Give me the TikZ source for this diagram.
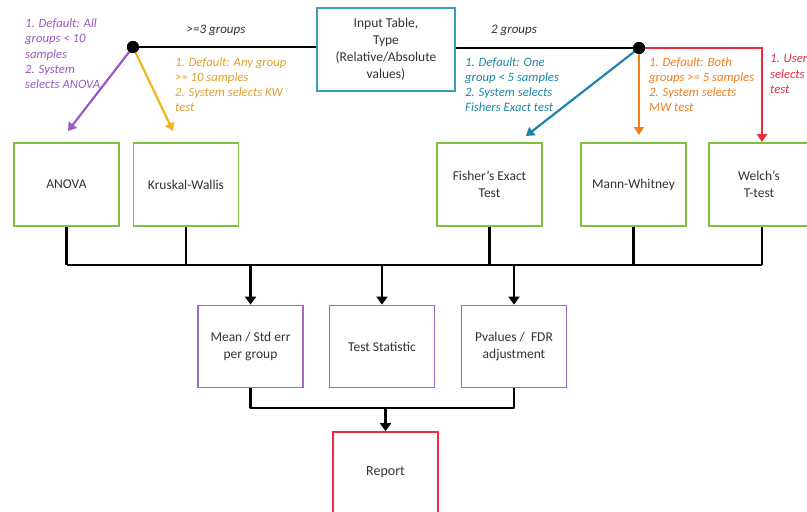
\documentclass[tikz,border=0pt]{standalone}
\usepackage{fontspec}
\setmainfont{Carlito}
\usetikzlibrary{arrows.meta}
\definecolor{cpurple}{HTML}{9B59C4}
\definecolor{cyellow}{HTML}{F2B41C}
\definecolor{cyellowt}{HTML}{E0A030}
\definecolor{cblue}{HTML}{1F86AA}
\definecolor{cinput}{HTML}{3C9CC0}
\definecolor{cgreen}{HTML}{7CC142}
\definecolor{corange}{HTML}{F07F1C}
\definecolor{cred}{HTML}{EC2A40}
\definecolor{cbox}{HTML}{A465C4}
\definecolor{ctext}{HTML}{333333}
\begin{document}
\begin{tikzpicture}[x=1pt,y=-1pt,
  box/.style={draw, line width=1.8pt, fill=white, text=ctext, align=center,
    font=\fontsize{13.5}{17}\selectfont, inner sep=2pt},
  greenbox/.style={box, draw=cgreen, minimum width=105pt, minimum height=83pt},
  purplebox/.style={box, draw=cbox, minimum width=105pt, minimum height=82pt},
  wire/.style={line width=2.5pt, black, line join=round},
  warrow/.style={wire, -{Triangle[width=11pt,length=8pt]}},
  carrow/.style={line width=2.2pt, -{Triangle[width=10pt,length=8pt]}},
  note/.style={anchor=north west, inner sep=0pt, align=left,
    font=\fontsize{12.7}{15.3}\selectfont\itshape},
  dot/.style={circle, fill=black, inner sep=0pt, minimum size=12pt}
]
\useasboundingbox (0,0) rectangle (807,512);
\fill[white] (0,0) rectangle (807,512);

% nodes
\node[box, draw=cinput, minimum width=138pt, minimum height=83pt] (input) at (386,49.5)
  {Input Table,\\Type\\(Relative/Absolute\\values)};
\node[dot] (ldot) at (133,47) {};
\node[dot] (rdot) at (639,48) {};

\node[greenbox] (anova) at (66.5,184.5) {ANOVA};
\node[greenbox] (kw) at (186,184.5) {Kruskal-Wallis};
\node[greenbox] (fisher) at (489.5,184.5) {Fisher’s Exact\\Test};
\node[greenbox] (mw) at (633.5,184.5) {Mann-Whitney};
\node[greenbox, minimum width=100pt] (welch) at (759,184.5) {Welch’s\\T-test};

\node[purplebox] (mean) at (250.5,346.5) {Mean / Std err\\per group};
\node[purplebox] (tstat) at (382,346.5) {Test Statistic};
\node[purplebox] (pv) at (514,346.5) {Pvalues /\ \ FDR\\adjustment};

\node[box, draw=cred, minimum width=105pt, minimum height=86pt] (rep) at (385.5,475) {};
\node[text=ctext, font=\fontsize{14}{17}\selectfont] (reptext) at (385.5,472) {Report};

% labels
\node[font=\fontsize{13}{15}\selectfont\itshape, text=ctext] (l3) at (216,30) {>=3 groups};
\node[font=\fontsize{13}{15}\selectfont\itshape, text=ctext] (l2) at (514,30) {2 groups};

\node[note, text=cpurple] (npurple) at (25,18.5)
  {1. Default: All\\groups < 10\\samples\\2. System\\selects ANOVA};
\node[note, text=cyellowt] (nyellow) at (175,57)
  {1. Default: Any group\\>= 10 samples\\2. System selects KW\\test};
\node[note, text=cblue] (nblue) at (465,57)
  {1. Default: One\\group < 5 samples\\2. System selects\\Fishers Exact test};
\node[note, text=corange] (norange) at (649,57)
  {1. Default: Both\\groups >= 5 samples\\2. System selects\\MW test};
\node[note, text=cred] (nred) at (770,54.5)
  {1. User\\selects\\test};

% top connectors
\draw[wire] (ldot.center) -- (input.west |- ldot.center);
\draw[wire] (input.east |- rdot.center) -- (rdot.center);
\coordinate (ptip) at (68,131);
\coordinate (ytip) at (173,131);
\coordinate (btip) at (526,136);
\draw[carrow, cpurple] (ldot.center) -- (ptip);
\draw[carrow, cyellow] (ldot.center) -- (ytip);
\draw[carrow, cblue] (rdot.center) -- (btip);
\draw[carrow, corange] (rdot.center) -- (rdot.center |- 0,135);
\coordinate (rcorner) at (762,48);
\draw[carrow, cred] (rdot.center) -- (rcorner) -- (rcorner |- welch.north);
\node[dot] at (ldot) {};
\node[dot] at (rdot) {};

% bus to purple boxes
\coordinate (bus) at (0,265);
\draw[wire] (anova.south) -- (anova.south |- bus);
\draw[wire] (kw.south) -- (kw.south |- bus);
\draw[wire] (fisher.south) -- (fisher.south |- bus);
\draw[wire] (mw.south) -- (mw.south |- bus);
\draw[wire] (rcorner |- welch.south) -- (rcorner |- bus);
\draw[wire] (anova.south |- bus) -- (rcorner |- bus);
\draw[warrow] (mean.north |- bus) -- (mean.north);
\draw[warrow] (tstat.north |- bus) -- (tstat.north);
\draw[warrow] (pv.north |- bus) -- (pv.north);

% bus to report
\coordinate (bus2) at (0,408);
\draw[wire] (mean.south) -- (mean.south |- bus2) -- (pv.south |- bus2) -- (pv.south);
\draw[warrow] (rep.north |- bus2) -- (rep.north);
\end{tikzpicture}
\end{document}
